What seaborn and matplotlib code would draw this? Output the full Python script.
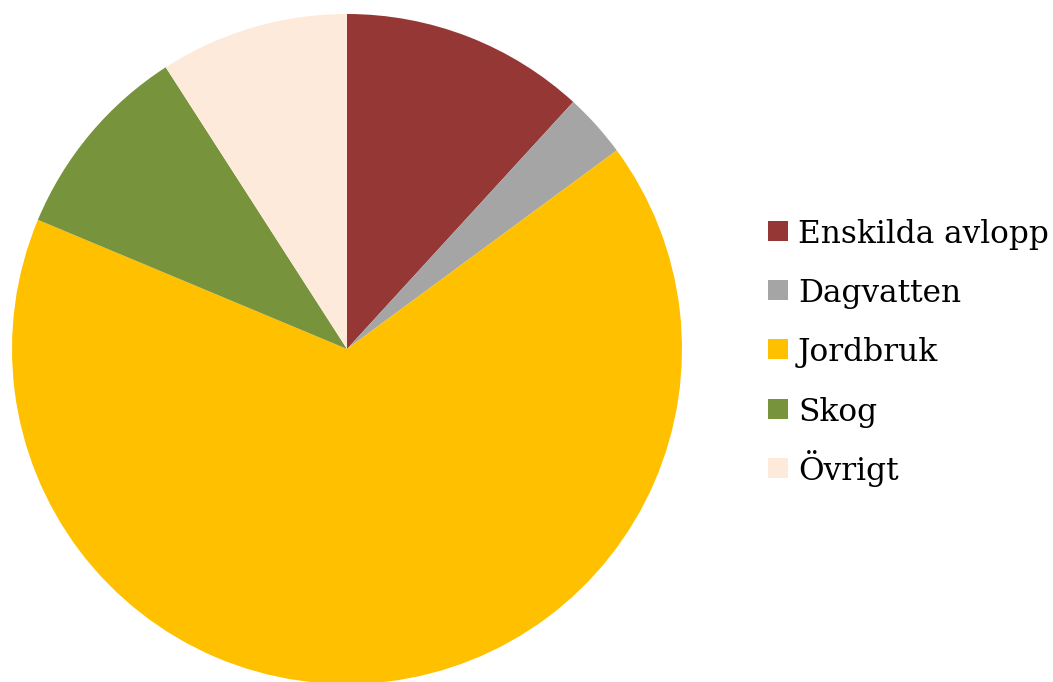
import matplotlib
matplotlib.use("Agg")
import matplotlib.pyplot as plt
import seaborn as sns
from matplotlib.patches import Rectangle

sns.set_theme(style="white")
plt.rcParams['font.family'] = ['DejaVu Serif']

# andelar per källa (%)
kallor = ['Enskilda avlopp', 'Dagvatten', 'Jordbruk', 'Skog', 'Övrigt']
andel = [11.8, 3.1, 66.4, 9.6, 9.1]
farger = ['#953735', '#A5A5A5', '#FFC000', '#77933C', '#FDEADA']

W, H = 1053, 682
fig = plt.figure(figsize=(W / 100, H / 100), dpi=100)
ax = fig.add_axes([12 / W, -2 / H, 670 / W, 670 / H])

ax.pie(andel, colors=farger, startangle=90, counterclock=False, radius=1,
       wedgeprops={'linewidth': 0})
ax.set_xlim(-1, 1)
ax.set_ylim(-1, 1)
ax.set_aspect('equal')
ax.axis('off')

# legend med jämnt radavstånd
for i, (namn, f) in enumerate(zip(kallor, farger)):
    yc = 231 + i * 59.2  # pixlar från toppen
    fig.add_artist(Rectangle((768 / W, 1 - (yc + 10) / H), 20 / W, 20 / H,
                             facecolor=f, edgecolor='none', transform=fig.transFigure))
    fig.text(798 / W, 1 - (yc + 12) / H, namn, fontsize=22.5, color='black',
             va='baseline', ha='left')

fig.savefig('out.png', dpi=100)
